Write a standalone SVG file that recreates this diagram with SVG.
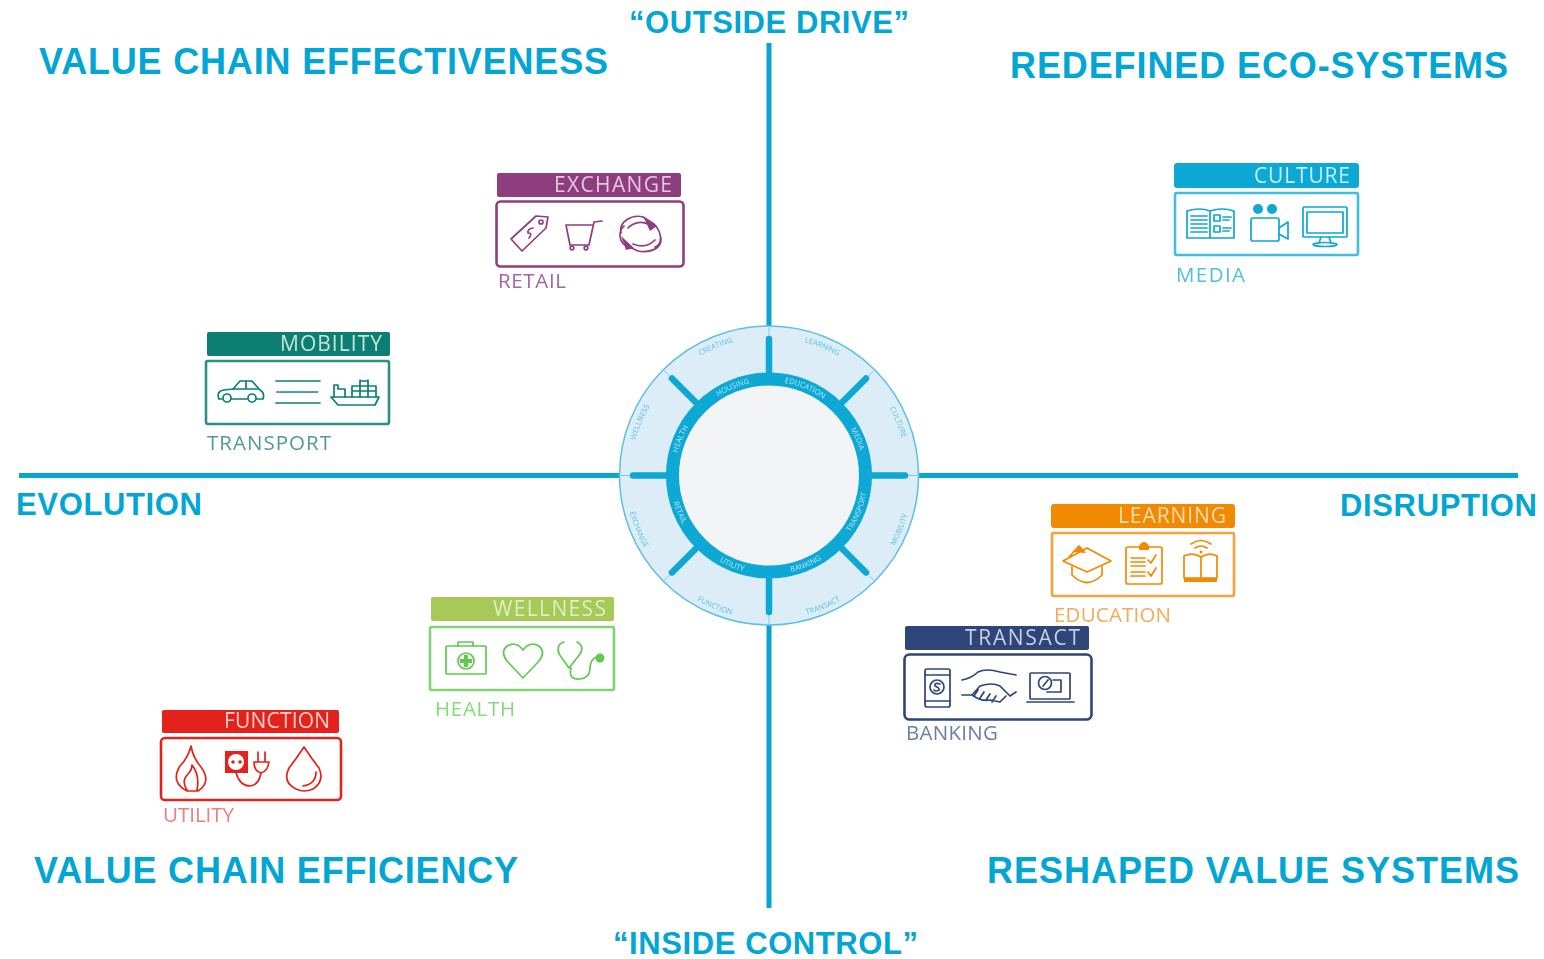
<svg xmlns="http://www.w3.org/2000/svg" width="1544" height="959" viewBox="0 0 1544 959">
<style>
.h{font-family:"Liberation Sans",Arial,sans-serif;font-weight:700;fill:#02a6d4}
.h1{font-size:36px}
.h2{font-size:31px}
.axis{stroke:#06a5d2;stroke-width:5;fill:none}
.bar{fill:currentColor}
.box{fill:#fff;stroke:currentColor;stroke-width:2.6}
.media .box{stroke:#3fbde0}.transport .box{stroke:#2a8f84}.edu .box{stroke:#f6a13a}.health .box{stroke:#7fd472}
.i{fill:none;stroke:currentColor;stroke-width:1.7;stroke-linecap:round;stroke-linejoin:round}
.f{fill:currentColor;stroke:none}
.w{fill:#fff;stroke:none}
.t{font-family:"Open Sans","Liberation Sans",sans-serif;font-size:21px;text-anchor:end}
.s{font-family:"Open Sans","Liberation Sans",sans-serif;font-size:20.5px}
.ro{font-family:"Open Sans","Liberation Sans",sans-serif;font-size:7.5px;fill:#5cc0e2;text-anchor:middle}
.ri{font-family:"Open Sans","Liberation Sans",sans-serif;font-size:7.5px;fill:#bfe6f4;text-anchor:middle}
.spoke{stroke:#0aa8d4;stroke-width:6.5;stroke-linecap:round}
.thin{stroke:#7ccbe6;stroke-width:1}
.retail{color:#8e3d7f}.media{color:#0aa8d4}.transport{color:#0b7f72}.edu{color:#f18a00}.bank{color:#2f4479}.health{color:#5fc951}.utility{color:#e3231b}
</style>
<defs>
<filter id="soft" x="-5%" y="-5%" width="110%" height="110%"><feGaussianBlur stdDeviation="0.7"/></filter>
<path id="co" d="M769 613.500A138 138 0 1 1 769 337.500A138 138 0 1 1 769 613.500"/>
<path id="cc" d="M769 331.500A144 144 0 1 0 769 619.500A144 144 0 1 0 769 331.500"/>
<path id="ci" d="M769 569.500A94 94 0 1 1 769 381.500A94 94 0 1 1 769 569.500"/>
<path id="ic" d="M769 376.500A99 99 0 1 0 769 574.500A99 99 0 1 0 769 376.500"/>
</defs>

<g id="connectors">
<path class="axis" d="M769 43V326M769 625V908M19 475.500H620M918 475.500H1518"/>
</g>

<g id="hub" filter="url(#soft)">
<circle cx="769" cy="475.500" r="149.500" fill="#dcedf8" stroke="#5cc0e2" stroke-width="1.500"/>
<path class="thin" d="M769 326V625M619 475.500H919M663 369.500L875 581.500M875 369.500L663 581.500"/>
<circle cx="769" cy="475.500" r="96.500" fill="#f2f4f6" stroke="#0aa8d4" stroke-width="13"/>
<path class="spoke" d="M769 372V339M769 579V612M666 475.500H633M872 475.500H905M696 402.500L672 378.500M842 402.500L866 378.500M696 548.500L672 572.500M842 548.500L866 572.500"/>
<text class="ro"><textPath href="#co" startOffset="43.750%">CREATING</textPath></text>
<text class="ro"><textPath href="#co" startOffset="31.250%">WELLNESS</textPath></text>
<text class="ro"><textPath href="#co" startOffset="56.250%">LEARNING</textPath></text>
<text class="ro"><textPath href="#co" startOffset="68.750%">CULTURE</textPath></text>
<text class="ro"><textPath href="#cc" startOffset="31.250%">EXCHANGE</textPath></text>
<text class="ro"><textPath href="#cc" startOffset="43.750%">FUNCTION</textPath></text>
<text class="ro"><textPath href="#cc" startOffset="56.250%">TRANSACT</textPath></text>
<text class="ro"><textPath href="#cc" startOffset="68.750%">MOBILITY</textPath></text>
<text class="ri"><textPath href="#ci" startOffset="43.750%">HOUSING</textPath></text>
<text class="ri"><textPath href="#ci" startOffset="31.250%">HEALTH</textPath></text>
<text class="ri"><textPath href="#ci" startOffset="56.250%">EDUCATION</textPath></text>
<text class="ri"><textPath href="#ci" startOffset="68.750%">MEDIA</textPath></text>
<text class="ri"><textPath href="#ic" startOffset="31.250%">RETAIL</textPath></text>
<text class="ri"><textPath href="#ic" startOffset="43.750%">UTILITY</textPath></text>
<text class="ri"><textPath href="#ic" startOffset="56.250%">BANKING</textPath></text>
<text class="ri"><textPath href="#ic" startOffset="68.750%">TRANSPORT</textPath></text>
</g>

<g id="node-retail" class="retail" filter="url(#soft)">
<rect class="bar" x="497" y="173" width="184" height="24" rx="2"/>
<rect class="box" x="496.500" y="201.500" width="187" height="65" rx="4"/>
<text class="t" x="672" y="192" fill="#e6c5e0" textLength="118">EXCHANGE</text>
<text class="s" x="498" y="288" fill="#a765a0" textLength="68">RETAIL</text>
<path class="i" d="M511 239L522 251L546 228L548 217L536 216Z"/><circle class="i" cx="541" cy="222" r="2"/><path class="i" d="M533 228Q527 229 528 233Q533 233 529 238"/>
<path class="i" d="M602 221L594 222L589 245H570L566 225H592"/><circle class="i" cx="572" cy="248" r="1.800"/><circle class="i" cx="586" cy="248" r="1.800"/>
<path class="i" d="M621 233C618 222 632 214 643 217L654 224C662 232 663 244 655 247M661 238C662 249 650 253 638 251L625 245C618 240 619 230 624 226M628 228C634 222 642 221 648 224M655 240C648 247 640 247 633 244"/>
<path class="f" d="M643 216L657 226L650 231Z M621 236L634 248L626 250Z"/>
</g>

<g id="node-media" class="media" filter="url(#soft)">
<rect class="bar" x="1174" y="163" width="185" height="25" rx="3"/>
<rect class="box" x="1175" y="193" width="183" height="62" rx="2"/>
<text class="t" x="1350" y="183" fill="#c7edf8" textLength="96">CULTURE</text>
<text class="s" x="1176" y="282" fill="#4cc0e0" textLength="69">MEDIA</text>
<path class="i" d="M1187 211Q1200 207 1210 211Q1222 207 1234 211V238H1187ZM1210 211V238M1191 216H1207M1191 220H1207M1191 224H1207M1191 228H1207M1191 232H1207"/>
<rect class="i" x="1214" y="215" width="6" height="6"/><rect class="i" x="1214" y="226" width="6" height="6"/><path class="i" d="M1223 217H1231M1223 220H1229M1223 228H1231M1223 231H1229"/>
<circle class="f" cx="1258" cy="209" r="5"/><circle class="f" cx="1272" cy="209" r="5"/>
<rect class="i" x="1251" y="218" width="28" height="23" rx="2"/><path class="i" d="M1279 228L1288 222V239L1279 234"/>
<rect class="i" x="1303" y="207" width="44" height="30" rx="1"/><rect class="i" x="1307" y="212" width="36" height="21"/><path class="i" d="M1321 237L1319 243M1329 237L1331 243"/><ellipse class="i" cx="1325" cy="244.500" rx="12" ry="2"/>
</g>

<g id="node-transport" class="transport" filter="url(#soft)">
<rect class="bar" x="207" y="332" width="183" height="24" rx="2"/>
<rect class="box" x="206" y="361" width="183" height="63" rx="2"/>
<text class="t" x="382" y="351" fill="#c4e2de" textLength="102">MOBILITY</text>
<text class="s" x="207" y="450" fill="#4f9c93" textLength="124">TRANSPORT</text>
<path class="i" d="M219 399Q216 391 224 390L233 389L240 381H252L260 390Q265 393 263 399H256M247 399H231M222 399H219"/><circle class="i" cx="227" cy="398" r="4"/><circle class="i" cx="252" cy="398" r="4"/><path class="i" d="M233 389H258M246 381V389"/>
<path class="i" d="M276 381H320M276 403H320"/><path class="i" d="M277 392H319" stroke-dasharray="2 1.500"/>
<path class="i" d="M331 397H379L375 405H338Z"/><path class="i" d="M334 397V385H338V389H345V397M352 397V386H376V397M360 380V397M368 380V397M360 381H368M352 391H376"/>
</g>

<g id="node-education" class="edu" filter="url(#soft)">
<rect class="bar" x="1051" y="504" width="184" height="24" rx="3"/>
<rect class="box" x="1052" y="533" width="182" height="63" rx="2"/>
<text class="t" x="1226" y="523" fill="#fbdcb1" textLength="108">LEARNING</text>
<text class="s" x="1054" y="622" fill="#f6a95a" textLength="117">EDUCATION</text>
<path class="i" d="M1063 561L1087 548L1111 561L1087 572ZM1072 567V575Q1087 590 1102 575V567M1069 557L1079 546L1084 552"/><path class="f" d="M1072 552L1080 546L1086 553Z"/>
<rect class="i" x="1126" y="547" width="36" height="37" rx="2"/><path class="f" d="M1139 550V546Q1144 538 1149 546V550Z"/>
<path class="i" d="M1131 558H1145M1131 562H1145M1131 566H1145M1131 572H1145M1131 576H1145M1148 560L1151 563L1156 555M1148 572L1151 576L1156 568"/>
<path class="i" d="M1184 556Q1193 552 1201 557Q1209 552 1217 556V578H1184ZM1201 557V578"/><path class="f" d="M1184 578H1217V582H1184Z"/>
<path class="i" d="M1191 544Q1201 537 1211 544M1195 548Q1201 544 1207 548"/><circle class="f" cx="1201" cy="552" r="1.500"/>
</g>

<g id="node-banking" class="bank" filter="url(#soft)">
<rect class="bar" x="905" y="626" width="184" height="24" rx="2"/>
<rect class="box" x="904.500" y="654.500" width="187" height="65" rx="5"/>
<text class="t" x="1080" y="645" fill="#c9d0e2" textLength="115">TRANSACT</text>
<text class="s" x="906" y="740" fill="#6c7ca3" textLength="92">BANKING</text>
<rect class="i" x="925" y="669" width="25" height="38" rx="2"/><path class="i" d="M925 675H950M925 701H950"/><circle class="i" cx="937" cy="687" r="7"/><path class="i" d="M940 684Q934 682 935 686Q940 688 939 690Q936 692 934 690"/>
<path class="i" d="M962 680Q972 678 978 672Q986 668 1000 672L1016 675M962 695H972L980 686Q992 682 1000 686L1010 696L1016 692M972 695Q982 702 990 700L1000 702L1006 696M978 690L974 696M984 692L980 698M990 694L986 700M996 696L992 702"/>
<rect class="i" x="1030" y="673" width="40" height="26" rx="1"/><path class="i" stroke-width="2.500" d="M1027 702H1074"/><circle class="i" cx="1045" cy="683" r="6.500"/><path class="i" d="M1043 686L1048 680M1053 680H1061V692H1047"/>
</g>

<g id="node-health" class="health" filter="url(#soft)">
<rect class="bar" x="431" y="597" width="183" height="24" rx="2" style="color:#a6c958"/>
<rect class="box" x="430" y="627" width="184" height="63" rx="2"/>
<text class="t" x="606" y="616" fill="#dfedc2" textLength="113">WELLNESS</text>
<text class="s" x="435" y="716" fill="#86d97a" textLength="80">HEALTH</text>
<rect class="i" x="446" y="646" width="40" height="28" rx="1"/><path class="i" d="M458 646V642H473V646"/><circle class="i" cx="466" cy="661" r="8" stroke-width="3"/><path class="f" d="M464 655H468V659H472V663H468V667H464V663H460V659H464Z"/>
<path class="i" d="M523 678L507 661Q500 652 507 646Q516 641 523 650Q530 641 539 646Q546 652 539 661Z"/>
<path class="i" d="M564 642Q556 644 559 654L569 668L580 654Q585 646 577 642M571 668Q568 680 580 679Q590 678 590 668Q591 656 600 657"/><circle class="f" cx="600" cy="658" r="4.500"/>
</g>

<g id="node-utility" class="utility" filter="url(#soft)">
<rect class="bar" x="162" y="710" width="177" height="23" rx="2"/>
<rect class="box" x="161" y="738" width="180" height="62" rx="4"/>
<text class="t" x="330" y="728" fill="#f9cfcc" textLength="106">FUNCTION</text>
<text class="s" x="163" y="822" fill="#ef7f7a" textLength="71">UTILITY</text>
<path class="i" d="M191 746Q193 758 201 767Q212 782 198 791H187Q170 782 180 766Q188 758 191 746ZM187 790Q181 781 188 774Q192 770 192 765Q200 775 197 790"/>
<rect class="f" x="225" y="751" width="23" height="22"/><circle class="w" cx="236" cy="762" r="8"/><circle class="f" cx="233" cy="762" r="1.800"/><circle class="f" cx="240" cy="762" r="1.800"/>
<path class="i" stroke-width="2" d="M254 762H269Q268 771 261 773Q254 771 254 762ZM258 762V752M265 762V752"/><path class="i" stroke-width="2" d="M236 773Q240 786 250 786Q259 785 261 773"/>
<path class="i" d="M304 747Q296 759 289 768Q282 782 296 789Q304 793 313 789Q325 781 319 768Q312 759 304 747ZM316 772Q316 784 303 786"/>
</g>

<g id="labels">
<text class="h h1" x="39" y="74" textLength="569">VALUE CHAIN EFFECTIVENESS</text>
<text class="h h1" x="1010" y="78" textLength="498">REDEFINED ECO-SYSTEMS</text>
<text class="h h1" x="34" y="883" textLength="484">VALUE CHAIN EFFICIENCY</text>
<text class="h h1" x="987" y="883" textLength="532">RESHAPED VALUE SYSTEMS</text>
<text class="h h2" x="629" y="33" textLength="280">“OUTSIDE DRIVE”</text>
<text class="h h2" x="613" y="954" textLength="305">“INSIDE CONTROL”</text>
<text class="h h2" x="16" y="515" textLength="186">EVOLUTION</text>
<text class="h h2" x="1340" y="516" textLength="197">DISRUPTION</text>
</g>
</svg>
